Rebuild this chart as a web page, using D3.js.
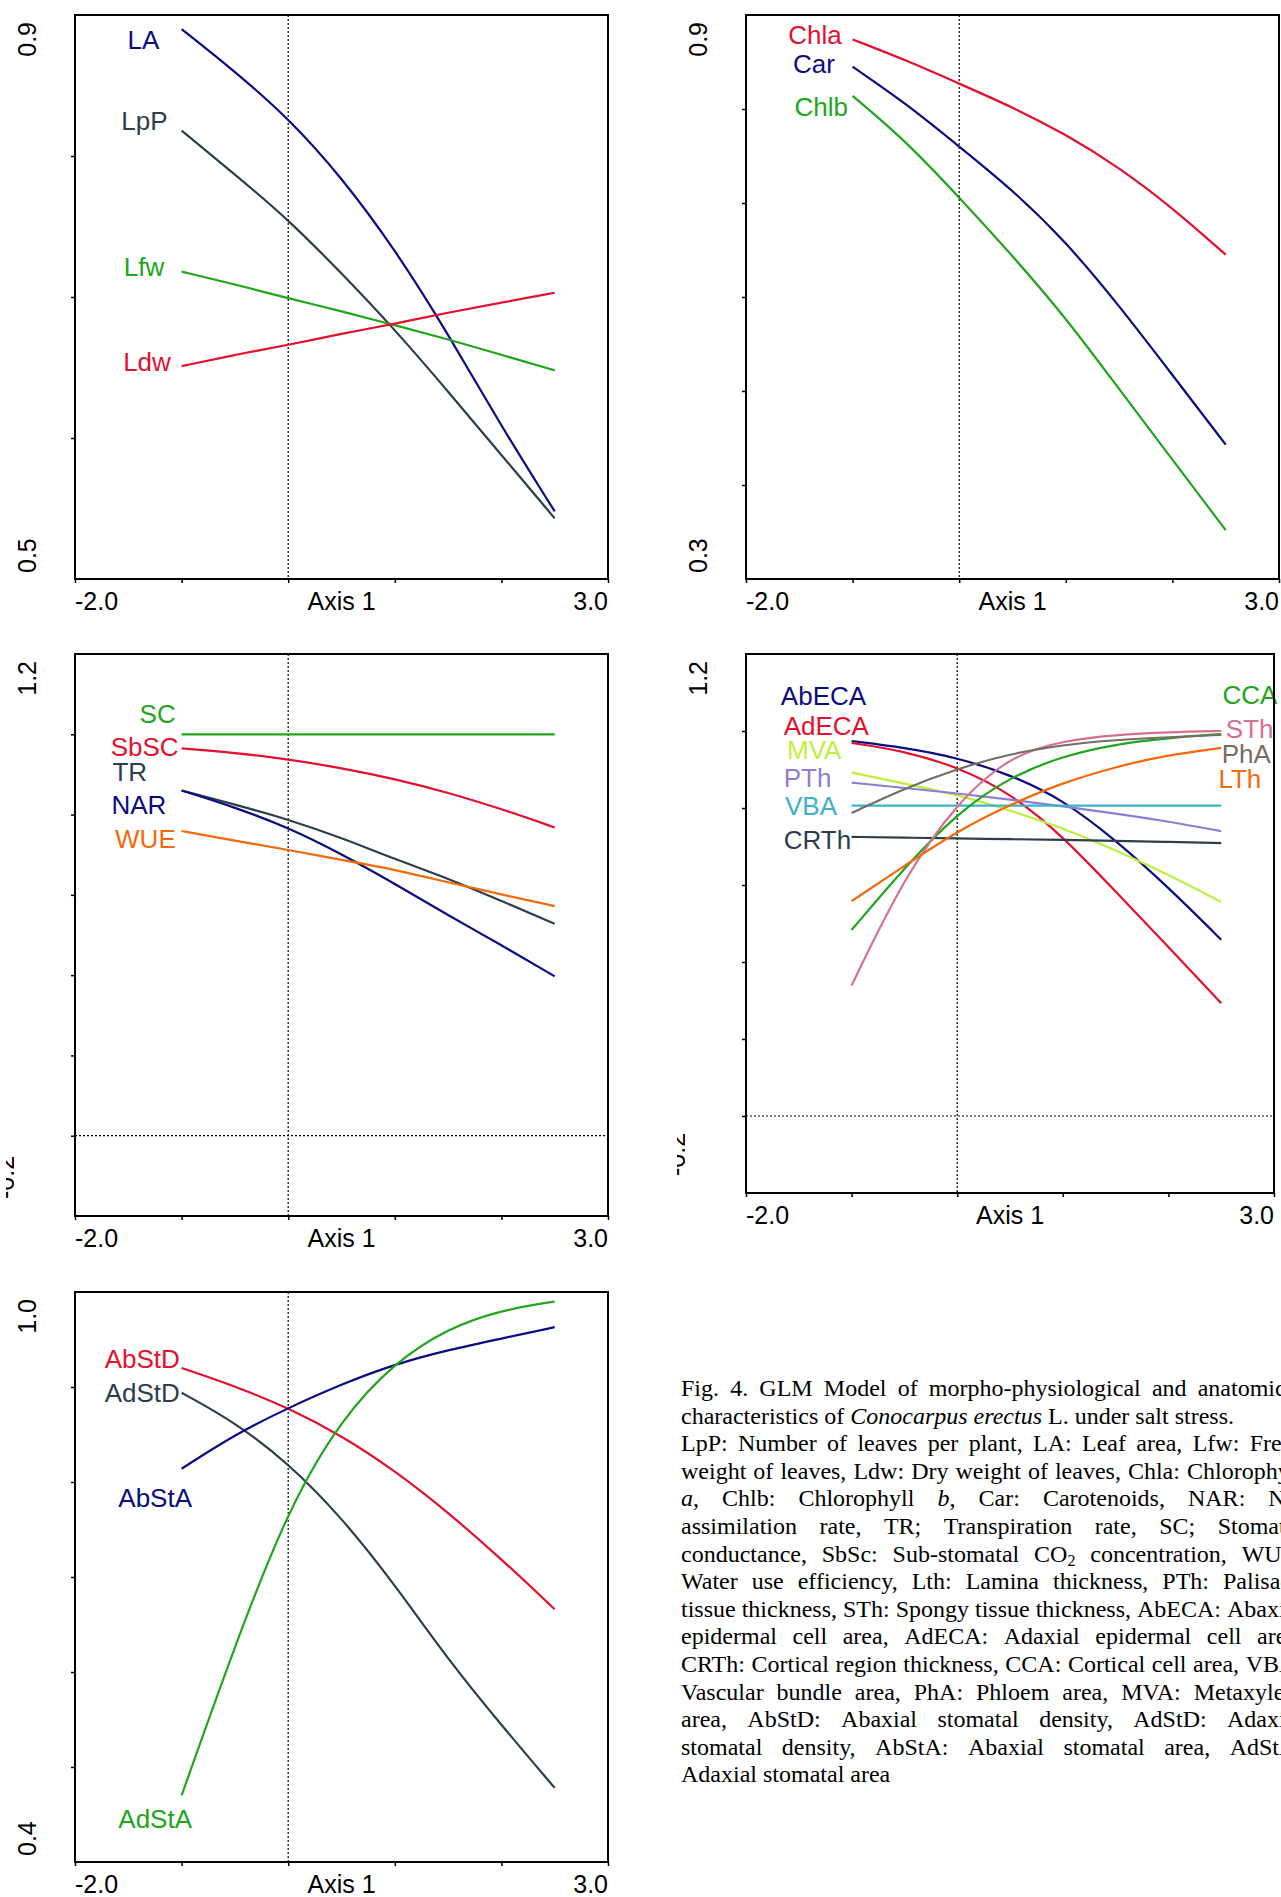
<!DOCTYPE html>
<html lang="en">
<head>
<meta charset="utf-8">
<script src="https://d3js.org/d3.v7.min.js"></script>
<style>
  body { margin: 0; background: #fff; }
  .frame { fill: none; stroke: #000; stroke-width: 2px; }
  .zero { stroke: #000; stroke-width: 1.2px; stroke-dasharray: 2,2; }
  .curve { fill: none; stroke-width: 2.2px; }
  .tick line { stroke: #000; stroke-width: 1.5px; }
  .axis-lab { font-family: "Liberation Sans", Arial, sans-serif; font-size: 25px; fill: #000; }
  .ser-lab { font-family: "Liberation Sans", Arial, sans-serif; font-size: 26px; }
  .caption { font-family: "Liberation Serif", "Times New Roman", serif; font-size: 24px; fill: #000; }
</style>
</head>
<body>
<script>
const axisX = [-1, -0.5, 0, 0.5, 1, 1.5, 2, 2.5];
const xTicks = [-2, -1, 0, 1, 2, 3];

// leaf growth
const LA  = [0.890, 0.860, 0.827, 0.785, 0.734, 0.674, 0.608, 0.548];
const LpP = [0.818, 0.787, 0.755, 0.717, 0.677, 0.633, 0.588, 0.543];
const Lfw = [0.718, 0.709, 0.699, 0.690, 0.680, 0.670, 0.659, 0.648];
const Ldw = [0.651, 0.659, 0.666, 0.674, 0.681, 0.689, 0.696, 0.703];

// pigments
const Chla = [0.874, 0.852, 0.827, 0.802, 0.773, 0.738, 0.695, 0.645];
const Car  = [0.845, 0.806, 0.760, 0.714, 0.659, 0.591, 0.517, 0.443];
const Chlb = [0.814, 0.766, 0.706, 0.644, 0.578, 0.502, 0.427, 0.352];

// gas exchange
const SC   = [1.0, 1.0, 1.0, 1.0, 1.0, 1.0, 1.0, 1.0];
const SbSC = [0.965, 0.954, 0.938, 0.916, 0.889, 0.855, 0.814, 0.768];
const TR   = [0.860, 0.825, 0.788, 0.742, 0.689, 0.641, 0.585, 0.528];
const NAR  = [0.860, 0.818, 0.768, 0.702, 0.628, 0.549, 0.475, 0.397];
const WUE  = [0.759, 0.735, 0.712, 0.687, 0.663, 0.631, 0.601, 0.572];

// anatomy
const AbECA = [0.974, 0.957, 0.931, 0.887, 0.822, 0.717, 0.594, 0.458];
const AdECA = [0.969, 0.948, 0.907, 0.840, 0.727, 0.583, 0.439, 0.293];
const MVA   = [0.892, 0.863, 0.835, 0.794, 0.748, 0.691, 0.627, 0.556];
const PTh   = [0.866, 0.852, 0.838, 0.822, 0.804, 0.786, 0.765, 0.740];
const VBA   = [0.806, 0.806, 0.806, 0.806, 0.806, 0.806, 0.806, 0.806];
const CRTh  = [0.725, 0.723, 0.721, 0.719, 0.717, 0.715, 0.712, 0.709];
const CCA   = [0.483, 0.645, 0.787, 0.881, 0.935, 0.966, 0.982, 0.992];
const STh   = [0.339, 0.622, 0.815, 0.935, 0.975, 0.990, 0.997, 1.000];
const PhA   = [0.787, 0.851, 0.902, 0.941, 0.964, 0.977, 0.984, 0.990];
const LTh   = [0.558, 0.650, 0.740, 0.809, 0.866, 0.907, 0.938, 0.956];

// stomata
const AbStD = [0.920, 0.901, 0.878, 0.849, 0.812, 0.768, 0.719, 0.666];
const AdStD = [0.894, 0.863, 0.820, 0.763, 0.692, 0.613, 0.544, 0.478];
const AbStA = [0.814, 0.850, 0.878, 0.903, 0.924, 0.939, 0.951, 0.963];
const AdStA = [0.470, 0.628, 0.772, 0.867, 0.926, 0.962, 0.981, 0.990];

const navy = "#0b0b82", slate = "#2d3e4b", green = "#22a51c", red = "#e3112f",
      orange = "#f26a0c", lime = "#bdf03e", lavender = "#8c7ed6", cyan = "#3eb2c8",
      gray = "#756e67", pink = "#d6708c";

// box = [left, top, right, bottom] in px; label spots in data units
const panels = [
  { box: [75, 15, 608, 579], yDomain: [0.5, 0.9], yTicks: [0.6, 0.7, 0.8], yText: ["0.9", "0.5"],
    series: [
      { name: "LA",  values: LA,  color: navy,  at: [-1.208, 0.8826], anchor: "end" },
      { name: "LpP", values: LpP, color: slate, at: [-1.132, 0.825],  anchor: "end" },
      { name: "Lfw", values: Lfw, color: green, at: [-1.162, 0.7214], anchor: "end" },
      { name: "Ldw", values: Ldw, color: red,   at: [-1.101, 0.654],  anchor: "end" }
    ] },
  { box: [746, 15, 1279, 579], yDomain: [0.3, 0.9], yTicks: [0.4, 0.5, 0.6, 0.7, 0.8], yText: ["0.9", "0.3"],
    series: [
      { name: "Chla", values: Chla, color: red,   at: [-1.101, 0.879],  anchor: "end" },
      { name: "Car",  values: Car,  color: navy,  at: [-1.166, 0.8485], anchor: "end" },
      { name: "Chlb", values: Chlb, color: green, at: [-1.044, 0.802],  anchor: "end" }
    ] },
  { box: [75, 654, 608, 1216], yDomain: [-0.2, 1.2], yTicks: [0, 0.2, 0.4, 0.6, 0.8, 1.0], yText: ["1.2", "-0.2"],
    cut: true,
    series: [
      { name: "SC",   values: SC,   color: green,  at: [-1.055, 1.052], anchor: "end" },
      { name: "SbSC", values: SbSC, color: red,    at: [-1.028, 0.970], anchor: "end" },
      { name: "TR",   values: TR,   color: slate,  at: [-1.323, 0.907], anchor: "end" },
      { name: "NAR",  values: NAR,  color: navy,   at: [-1.143, 0.825], anchor: "end" },
      { name: "WUE",  values: WUE,  color: orange, at: [-1.055, 0.739], anchor: "end" }
    ] },
  { box: [746, 654, 1274, 1193], yDomain: [-0.2, 1.2], yTicks: [0, 0.2, 0.4, 0.6, 0.8, 1.0], yText: ["1.2", "-0.2"],
    cut: true,
    series: [
      { name: "AbECA", values: AbECA, color: navy,     at: [-1.670, 1.092], anchor: "start" },
      { name: "AdECA", values: AdECA, color: red,      at: [-1.643, 1.013], anchor: "start" },
      { name: "MVA",   values: MVA,   color: lime,     at: [-1.612, 0.951], anchor: "start" },
      { name: "PTh",   values: PTh,   color: lavender, at: [-1.643, 0.879], anchor: "start" },
      { name: "VBA",   values: VBA,   color: cyan,     at: [-1.631, 0.807], anchor: "start" },
      { name: "CRTh",  values: CRTh,  color: slate,    at: [-1.643, 0.717], anchor: "start" },
      { name: "CCA",   values: CCA,   color: green,    at: [2.513, 1.095],  anchor: "start" },
      { name: "STh",   values: STh,   color: pink,     at: [2.544, 1.005],  anchor: "start" },
      { name: "PhA",   values: PhA,   color: gray,     at: [2.505, 0.941],  anchor: "start" },
      { name: "LTh",   values: LTh,   color: orange,   at: [2.474, 0.876],  anchor: "start" }
    ] },
  { box: [75, 1292, 608, 1862], yDomain: [0.4, 1.0], yTicks: [0.5, 0.6, 0.7, 0.8, 0.9], yText: ["1.0", "0.4"],
    series: [
      { name: "AbStD", values: AbStD, color: red,   at: [-1.017, 0.930],  anchor: "end" },
      { name: "AdStD", values: AdStD, color: slate, at: [-1.017, 0.894],  anchor: "end" },
      { name: "AbStA", values: AbStA, color: navy,  at: [-0.902, 0.784],  anchor: "end" },
      { name: "AdStA", values: AdStA, color: green, at: [-0.902, 0.4457], anchor: "end" }
    ] }
];

const captionLines = [
  "Fig. 4. GLM Model of morpho-physiological and anatomical",
  "characteristics of *Conocarpus* *erectus* L. under salt stress.",
  "LpP: Number of leaves per plant, LA: Leaf area, Lfw: Fresh",
  "weight of leaves, Ldw: Dry weight of leaves, Chla: Chlorophyll",
  "*a*, Chlb: Chlorophyll *b*, Car: Carotenoids, NAR: Net",
  "assimilation rate, TR; Transpiration rate, SC; Stomatal",
  "conductance, SbSc: Sub-stomatal CO_2 concentration, WUE:",
  "Water use efficiency, Lth: Lamina thickness, PTh: Palisade",
  "tissue thickness, STh: Spongy tissue thickness, AbECA: Abaxial",
  "epidermal cell area, AdECA: Adaxial epidermal cell area,",
  "CRTh: Cortical region thickness, CCA: Cortical cell area, VBA:",
  "Vascular bundle area, PhA: Phloem area, MVA: Metaxylem",
  "area, AbStD: Abaxial stomatal density, AdStD: Adaxial",
  "stomatal density, AbStA: Abaxial stomatal area, AdStA:",
  "Adaxial stomatal area"
];
const captionJustified = [true, false, true, true, true, true, true, true, true, true, true, true, true, true, false];

const svg = d3.select("body").append("svg")
  .attr("width", 1281)
  .attr("height", 1897);

panels.forEach(function(p, i) {
  const [x0, y0, x1, y1] = p.box;
  const x = d3.scaleLinear().domain([-2, 3]).range([x0, x1]);
  const y = d3.scaleLinear().domain(p.yDomain).range([y1, y0]);
  const g = svg.append("g");

  // dotted zero lines
  g.append("line").attr("class", "zero")
    .attr("x1", x(0)).attr("x2", x(0)).attr("y1", y0).attr("y2", y1);
  if (p.yDomain[0] < 0) {
    g.append("line").attr("class", "zero")
      .attr("x1", x0).attr("x2", x1).attr("y1", y(0)).attr("y2", y(0));
  }

  const line = d3.line()
    .x((d, k) => x(axisX[k]))
    .y(d => y(d))
    .curve(d3.curveBasis);

  p.series.forEach(function(s) {
    g.append("path")
      .attr("class", "curve")
      .attr("stroke", s.color)
      .attr("d", line(s.values));
  });

  p.series.forEach(function(s) {
    g.append("text")
      .attr("class", "ser-lab")
      .attr("x", x(s.at[0]))
      .attr("y", y(s.at[1]))
      .attr("dy", "0.36em")
      .attr("text-anchor", s.anchor)
      .attr("fill", s.color)
      .text(s.name);
  });

  g.append("rect").attr("class", "frame")
    .attr("x", x0).attr("y", y0).attr("width", x1 - x0).attr("height", y1 - y0);

  g.append("g")
    .attr("transform", "translate(" + x0 + ",0)")
    .call(d3.axisLeft(y).tickValues(p.yTicks).tickSize(4).tickFormat(""))
    .call(a => a.select(".domain").remove());
  g.append("g")
    .attr("transform", "translate(0," + y1 + ")")
    .call(d3.axisBottom(x).tickValues(xTicks).tickSize(4).tickFormat(""))
    .call(a => a.select(".domain").remove());

  // x axis texts
  g.append("text").attr("class", "axis-lab")
    .attr("x", x0).attr("y", y1 + 31).text("-2.0");
  g.append("text").attr("class", "axis-lab")
    .attr("x", (x0 + x1) / 2).attr("y", y1 + 31).attr("text-anchor", "middle").text("Axis 1");
  g.append("text").attr("class", "axis-lab")
    .attr("x", x1).attr("y", y1 + 31).attr("text-anchor", "end").text("3.0");

  // y axis end values, rotated
  g.append("text").attr("class", "axis-lab")
    .attr("transform", "translate(" + (x0 - 39) + "," + (y0 + 7) + ") rotate(-90)")
    .attr("text-anchor", "end").text(p.yText[0]);

  if (p.cut) {
    // the bottom value is cut off in the original figure
    const cid = "cut" + i;
    svg.append("clipPath").attr("id", cid)
      .append("rect").attr("x", x0 - 69).attr("y", y1 - 80).attr("width", 8).attr("height", 80);
    g.append("g").attr("clip-path", "url(#" + cid + ")")
      .append("text").attr("class", "axis-lab")
      .attr("transform", "translate(" + (x0 - 61) + "," + (y1 - 17) + ") rotate(-90)")
      .text(p.yText[1]);
  } else {
    g.append("text").attr("class", "axis-lab")
      .attr("transform", "translate(" + (x0 - 39) + "," + (y1 - 6) + ") rotate(-90)")
      .text(p.yText[1]);
  }
});

// caption, justified like the printed column
const cap = svg.append("g");
const capLeft = 681, capWidth = 622;

function addWord(t, w) {
  const it = w.match(/^\*(.+)\*(.*)$/);
  if (it) {
    t.append("tspan").style("font-style", "italic").text(it[1]);
    if (it[2]) t.append("tspan").text(it[2]);
  } else if (w.indexOf("_") > 0) {
    const parts = w.split("_");
    t.append("tspan").text(parts[0]);
    t.append("tspan").attr("font-size", "16px").attr("dy", 4).text(parts[1]);
  } else {
    t.text(w);
  }
}

captionLines.forEach(function(ln, i) {
  const yy = 1396 + i * 27.6;
  const words = ln.split(" ");
  const nodes = words.map(function(w) {
    const t = cap.append("text").attr("class", "caption").attr("y", yy);
    addWord(t, w);
    return t;
  });
  const widths = nodes.map(n => n.node().getComputedTextLength());
  const gap = captionJustified[i] ? (capWidth - d3.sum(widths)) / (words.length - 1) : 6;
  let cx = capLeft;
  nodes.forEach(function(n, k) {
    n.attr("x", cx);
    cx += widths[k] + gap;
  });
});
</script>
</body>
</html>
